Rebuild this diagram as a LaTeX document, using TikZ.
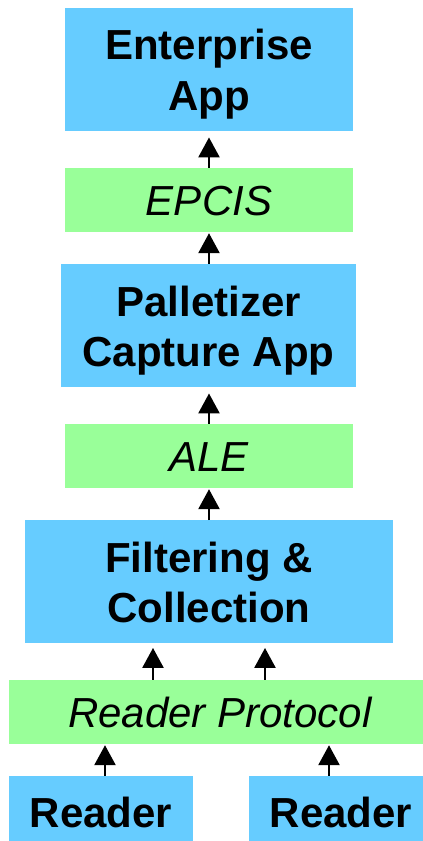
\documentclass[tikz,border=0pt]{standalone}
\usepackage{fontspec}
\setmainfont{Liberation Sans}
\usetikzlibrary{arrows.meta}
\definecolor{appblue}{RGB}{102,204,255}
\definecolor{apigreen}{RGB}{153,255,153}
\newcommand{\topstrut}[1]{\rule{0pt}{#1pt}}
\newcommand{\botstrut}[1]{\rule[-#1pt]{0pt}{#1pt}}
\tikzset{
  appbox/.style={fill=appblue, inner sep=0pt, align=center,
    font=\fontsize{42}{50.5}\selectfont\bfseries},
  apibox/.style={fill=apigreen, inner sep=0pt, align=center,
    font=\fontsize{42}{50.5}\selectfont\itshape},
  uparrow/.style={line width=2.6pt, -{Triangle[width=21pt,length=20pt]}}
}
\begin{document}
\begin{tikzpicture}[x=1pt,y=-1pt]
\useasboundingbox (0,0) rectangle (423,841);
\node[appbox, minimum width=288pt] (ent) at (209,69.5)
  {\topstrut{52}Enterprise\\App\botstrut{21}};
\node[apibox, minimum width=288pt] (epcis) at (209,200)
  {\topstrut{47}EPCIS\botstrut{17}};
\node[appbox, minimum width=295pt] (pal) at (208.5,325.5)
  {\topstrut{52.7}Palletizer\\Capture App\botstrut{20.3}};
\node[apibox, minimum width=288pt] (ale) at (209,456)
  {\topstrut{47.7}ALE\botstrut{16.3}};
\node[appbox, minimum width=368pt] (fc) at (209,581.5)
  {\topstrut{52}Filtering \&\\Collection\botstrut{20}};
\node[apibox, minimum width=422pt] (rp) at (220,712)
  {\topstrut{47.7}Reader Protocol\botstrut{16.3}};
\node[appbox, minimum width=184pt] (rdl) at (101,808.5)
  {\topstrut{51.5}Reader\botstrut{13.5}};
\node[appbox, minimum width=184pt] (rdr) at (341,808.5)
  {\topstrut{51.5}Reader\botstrut{13.5}};

\draw[uparrow, shorten >=6pt] (epcis.north) -- (ent.south);
\draw[uparrow, shorten >=1pt] (pal.north -| epcis.south) -- (epcis.south);
\draw[uparrow, shorten >=6pt] (ale.north) -- (pal.south -| ale.north);
\draw[uparrow, shorten >=1pt] (fc.north) -- (ale.south);
\draw[uparrow, shorten >=5pt] (rp.north -| 153,0) -- (fc.south -| 153,0);
\draw[uparrow, shorten >=5pt] (rp.north -| 265,0) -- (fc.south -| 265,0);
\draw[uparrow, shorten >=1pt] (rdl.north -| 105,0) -- (rp.south -| 105,0);
\draw[uparrow, shorten >=1pt] (rdr.north -| 329,0) -- (rp.south -| 329,0);
\end{tikzpicture}
\end{document}
